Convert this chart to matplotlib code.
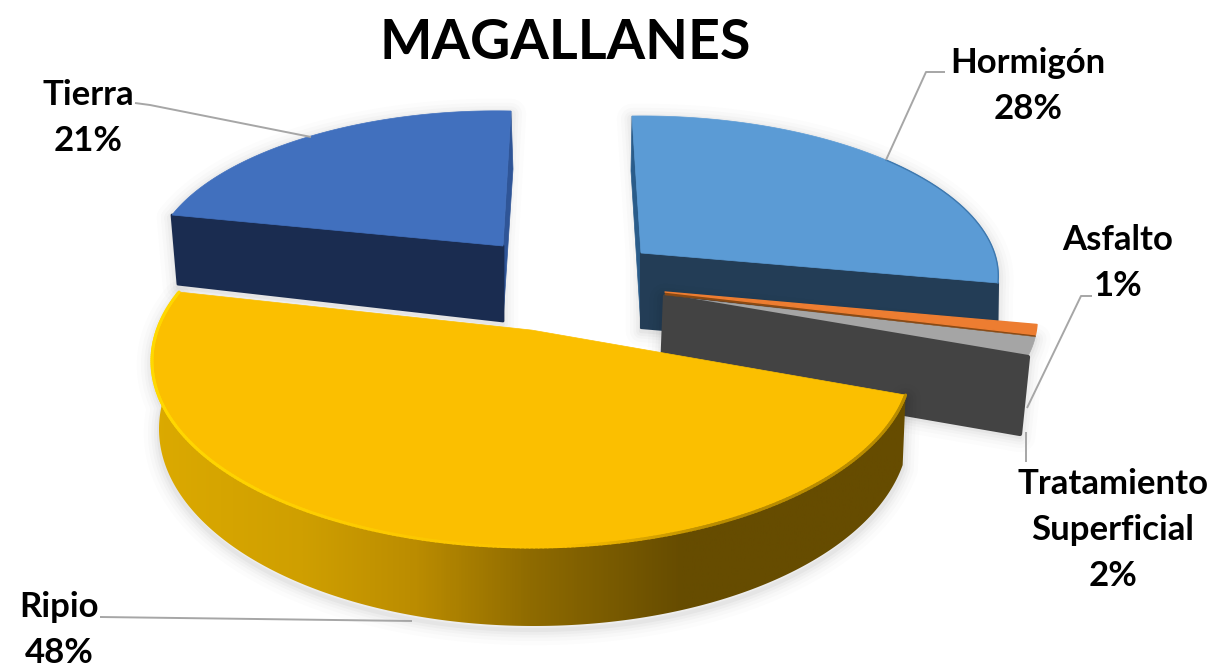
import numpy as np
import matplotlib
matplotlib.use("Agg")
import matplotlib.pyplot as plt
from matplotlib.patches import Polygon
from matplotlib.collections import LineCollection
from matplotlib.colors import LinearSegmentedColormap, to_rgb

# ---- data ----
TITLE = "MAGALLANES"
categories = ["Hormigón", "Asfalto", "Tratamiento\nSuperficial", "Ripio", "Tierra"]
values = [28, 1, 2, 48, 21]

# ---- styles ----
top_colors = ["#5B9BD5", "#ED7D31", "#A5A5A5", "#FBBF00", "#4170BE"]
side_colors = ["#233D56", "#8A4A14", "#434343", "#8F6B00", "#1A2C50"]
leader_color = "#A6A6A6"
plt.rcParams["font.family"] = ["Lato", "DejaVu Sans"]

W, H_PX = 1218, 667
fig = plt.figure(figsize=(W / 100, H_PX / 100), dpi=100)
ax = fig.add_axes([0, 0, 1, 1])

# slice boundaries in degrees, clockwise from 12 o'clock
edges = np.concatenate([[0], np.cumsum(values)]) / np.sum(values) * 360.0
T = {c: (edges[i], edges[i + 1]) for i, c in enumerate(categories)}
t_h, t_a, t_t, t_r, t_i = [T[c] for c in categories]


def unit(theta):
    th = np.radians(theta)
    return np.sin(th), np.cos(th)


def homography(pairs):
    """Projective camera for a pie slice from disc -> picture reference pairs."""
    A, b = [], []
    for (u, v), (x, y) in pairs:
        A.append([u, v, 1, 0, 0, 0, -u * x, -v * x]); b.append(x)
        A.append([0, 0, 0, u, v, 1, -u * y, -v * y]); b.append(y)
    h = np.linalg.solve(np.array(A, float), np.array(b, float))
    return np.append(h, 1).reshape(3, 3)


def perspective(cx, cy, rx, ry, tilt, spin):
    """Disc seen in perspective: its outline is an ellipse, its centre sits off the ellipse centre."""
    E = np.array([[rx, 0, cx], [0, ry, cy], [0, 0, 1.0]])
    K = np.array([[np.sqrt(1 - tilt ** 2), 0, 0], [0, 1, tilt], [0, tilt, 1.0]])
    sp = np.radians(spin)
    R = np.array([[np.cos(sp), -np.sin(sp), 0], [np.sin(sp), np.cos(sp), 0], [0, 0, 1.0]])
    F = np.diag([1.0, -1.0, 1.0])  # disc v axis points up, picture y axis down
    return E @ K @ R @ F


def project(M, theta):
    u, v = unit(np.asarray(theta, float))
    d = M[2, 0] * u + M[2, 1] * v + M[2, 2]
    return np.column_stack([(M[0, 0] * u + M[0, 1] * v + M[0, 2]) / d,
                            (M[1, 0] * u + M[1, 1] * v + M[1, 2]) / d])


def apex(M):
    return M[:2, 2] / M[2, 2]


def base(pts, M, shrink, h0, k):
    c = apex(M)
    pts = np.atleast_2d(pts)
    return np.column_stack([c[0] + shrink * (pts[:, 0] - c[0]),
                            pts[:, 1] + h0 + k * (pts[:, 1] - c[1])])


def arc(M, a, b, n=160):
    return project(M, np.linspace(a, b, n))


def sector(M, a, b):
    return np.vstack([apex(M), arc(M, a, b)])


def shadow(pts, dy=3, z=1):
    for lw, al in zip((22, 16, 11, 7, 3), (0.012, 0.016, 0.02, 0.025, 0.03)):
        ax.add_patch(Polygon(pts + [0, dy], closed=True, facecolor="none", edgecolor="k",
                             alpha=al, lw=lw, joinstyle="round", zorder=z))


# cameras (picture reference points for each exploded slice)
cam_h = homography([((0, 0), (641, 253)), (unit(t_h[0]), (632, 116)),
                    (unit(t_h[1]), (998, 283)), (unit(np.mean(t_h)), (886, 160))])
cam_i = homography([((0, 0), (503, 246)), (unit(t_i[1]), (511, 111)),
                    (unit(t_i[0]), (172, 215)), (unit(np.mean(t_i)), (311, 136))])
cam_r = perspective(532, 361, 380, 186, -0.166, -1.8)
cam_r_low = perspective(534, 429, 375, 197, -0.166, -1.8)

# ---- Tierra ----
top = sector(cam_i, *t_i)
pa, pl = apex(cam_i), project(cam_i, [t_i[0]])[0]
face = np.vstack([pa, pl, base(pl, cam_i, 0.982, 75, 0.19), base(pa, cam_i, 0.982, 75, 0.19)])
shadow(np.vstack([top, face]), z=1)
back_top = project(cam_i, [t_i[1]])[0]
ax.add_patch(Polygon([back_top, back_top + [2, 58], face[3], pa], facecolor="#2F5597", edgecolor="#2F5597", lw=0.5, zorder=2))
ax.add_patch(Polygon(face, facecolor=side_colors[4], edgecolor=side_colors[4], lw=2, joinstyle="round", zorder=3))
ax.add_patch(Polygon(top, facecolor=top_colors[4], edgecolor=top_colors[4], lw=0.5, zorder=4))

# ---- Hormigón ----
top = sector(cam_h, *t_h)
pa, pr = apex(cam_h), project(cam_h, [t_h[1]])[0]
face = np.vstack([pa, pr, base(pr, cam_h, 0.997, 75, 0), base(pa, cam_h, 0.997, 75, 0)])
shadow(np.vstack([top, face]), z=1)
back_top = project(cam_h, [t_h[0]])[0]
ax.add_patch(Polygon([back_top, back_top + [-1, 55], face[3], pa], facecolor="#2A5C8A", edgecolor="#2A5C8A", lw=0.5, zorder=2))
ax.add_patch(Polygon(face, facecolor=side_colors[0], edgecolor=side_colors[0], lw=1.5, joinstyle="round", zorder=3))
ax.add_patch(Polygon(top, facecolor=top_colors[0], edgecolor=top_colors[0], lw=0.5, zorder=4))
ax.plot(*arc(cam_h, np.mean(t_h), t_h[1]).T, color="#3E78AE", lw=1.0, zorder=4.5)

# ---- Tratamiento Superficial and Asfalto (share one affine frame) ----
c = np.array([665.0, 294.0])
s1, c1 = unit(t_a[0]); s2, c2 = unit(t_t[1])
frame = np.linalg.solve(np.array([[s1, c1], [s2, c2]]),
                        np.array([[372.0, 33.0], [363.0, 63.0]]))


def thin(theta, origin):
    s, co = unit(np.asarray(theta, float))
    return origin + np.column_stack([s, co]) @ frame


g0 = c + [0, 2]
o0 = c - [0, 2]
gray = np.vstack([g0, thin(np.linspace(*t_t, 20), c - [0, 1])])
pe = thin([t_t[1]], c)[0]
gface = np.array([g0, pe, g0 + (pe - g0) * [0.978, 1] + [0, 77], g0 + [-3, 76]])
shadow(np.vstack([gray, gface]), z=3.2)
ax.add_patch(Polygon(gray, facecolor=top_colors[2], edgecolor=top_colors[2], lw=0.5, zorder=5))
ax.add_patch(Polygon(gface, facecolor=side_colors[2], edgecolor=side_colors[2], lw=3, joinstyle="round", zorder=6))
orange = np.vstack([o0, thin(np.linspace(*t_a, 8), c - [0, 2.5])])
ax.add_patch(Polygon(np.vstack([o0, orange[-1], orange[-1] + [0, 2], o0 + [0, 3]]),
                     facecolor=side_colors[1], edgecolor=side_colors[1], lw=0.3, zorder=6.5))
ax.add_patch(Polygon(orange, facecolor=top_colors[1], edgecolor=top_colors[1], lw=1.0, joinstyle="round", zorder=7))

# ---- Ripio ----
top = sector(cam_r, *t_r)
rim = arc(cam_r, *t_r, n=300)
low = arc(cam_r_low, *t_r, n=300)
side = np.vstack([rim, low[::-1]])
shadow(side, dy=4, z=7.2)
xs = np.linspace(low[:, 0].min() - 10, rim[:, 0].max() + 5, 600)
cmap = LinearSegmentedColormap.from_list(
    "ripio", [(0.0, "#DCAA00"), (0.2, "#CF9F00"), (0.35, "#BB8C00"), (0.5, "#8F6B00"),
              (0.7, "#664C00"), (1.0, "#664C00")])
im = ax.imshow(xs[None, :], extent=(xs[0], xs[-1], 640, 280), aspect="auto", cmap=cmap, zorder=8)
clip = Polygon(side, transform=ax.transData, facecolor="none", edgecolor="none")
ax.add_patch(clip)
im.set_clip_path(clip)
ax.add_patch(Polygon(top, facecolor=top_colors[3], edgecolor=top_colors[3], lw=0.5, zorder=9))
# bevel on the rim
f = (rim[:, 0] - rim[:, 0].min()) / np.ptp(rim[:, 0])
bright, gold, dark = map(np.array, (to_rgb("#FFD800"), to_rgb("#FBBF00"), to_rgb("#B98C00")))
cols = [tuple(bright + (gold - bright) * min(v / 0.55, 1)) if v < 0.55
        else tuple(gold + (dark - gold) * min((v - 0.55) / 0.2, 1)) for v in f]
segs = np.stack([rim[:-1], rim[1:]], axis=1)
ax.add_collection(LineCollection(segs, colors=cols[:-1], linewidths=2.2, zorder=9.5, capstyle="round"))

# ---- leaders ----
leaders = [[(135, 103), (150, 105), (311, 137)],
           [(945, 72), (926, 72), (886, 160)],
           [(1092, 296), (1081, 296), (1027, 408)],
           [(1026, 432), (1026, 462)],
           [(100, 617), (412, 621)]]
for L in leaders:
    ax.plot(*zip(*L), color=leader_color, lw=1.4, zorder=10, solid_capstyle="butt")

# ---- text ----
label_xy = {"Hormigón": (1028, 86), "Asfalto": (1118, 263), "Tratamiento\nSuperficial": (1113, 530),
            "Ripio": (59, 630), "Tierra": (88, 118)}
for name, val in zip(categories, values):
    x, y = label_xy[name]
    ax.text(x, y, f"{name}\n{val}%", ha="center", va="center", fontsize=25, fontweight="bold",
            color="black", linespacing=1.52, zorder=11)
ax.text(565, 43, TITLE, ha="center", va="center", fontsize=40, fontweight="bold", color="black", zorder=11)

ax.set_xlim(0, W)
ax.set_ylim(H_PX, 0)
ax.axis("off")
fig.savefig("out.png", dpi=100, facecolor="white")
